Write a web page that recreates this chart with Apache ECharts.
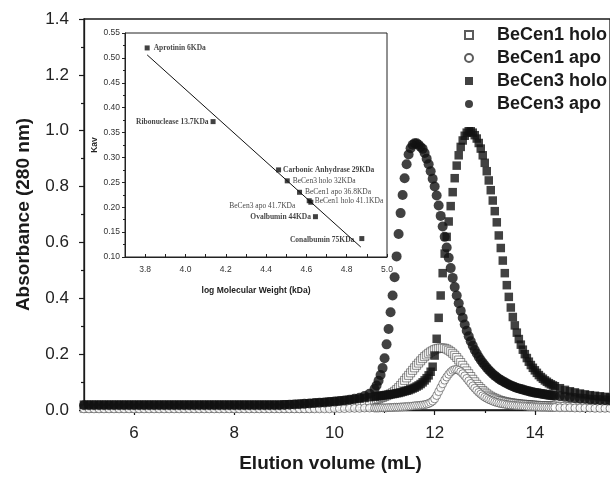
<!DOCTYPE html>
<html><head><meta charset="utf-8">
<script src="https://cdn.jsdelivr.net/npm/echarts@6/dist/echarts.min.js"></script>
<style>html,body{margin:0;padding:0;background:#fff}#c{width:610px;height:478px}</style>
</head><body><div id="c"></div>
<script>
// ---------- main chromatogram data ----------
const elutionVolume = [
5.0,5.1,5.2,5.3,5.4,5.5,5.6,5.7,5.8,5.9,
6.0,6.1,6.2,6.3,6.4,6.5,6.6,6.7,6.8,6.9,
7.0,7.1,7.2,7.3,7.4,7.5,7.6,7.7,7.8,7.9,
8.0,8.1,8.2,8.3,8.4,8.5,8.6,8.7,8.8,8.9,
9.0,9.1,9.2,9.3,9.4,9.5,9.6,9.7,9.8,9.9,
10.0,10.1,10.2,10.3,10.4,10.5,10.6,10.7,
10.80,10.84,10.88,10.92,10.96,
11.00,11.04,11.08,11.12,11.16,11.20,11.24,11.28,11.32,11.36,11.40,11.44,11.48,11.52,11.56,11.60,11.64,11.68,11.72,11.76,11.80,11.84,11.88,11.92,11.96,
12.00,12.04,12.08,12.12,12.16,12.20,12.24,12.28,12.32,12.36,12.40,12.44,12.48,12.52,12.56,12.60,12.64,12.68,12.72,12.76,12.80,12.84,12.88,12.92,12.96,
13.00,13.04,13.08,13.12,13.16,13.20,13.24,13.28,13.32,13.36,13.40,13.44,13.48,13.52,13.56,13.60,13.64,13.68,13.72,13.76,13.80,13.84,13.88,13.92,13.96,
14.00,14.04,14.08,14.12,14.16,14.20,14.24,14.28,14.32,14.36,14.40,
14.5,14.6,14.7,14.8,14.9,15.0,15.1,15.2,15.3,15.4,15.5
];
const becen1Holo = [
0.006,0.006,0.006,0.006,0.006,0.006,0.006,0.006,0.006,0.006,
0.006,0.006,0.006,0.006,0.006,0.006,0.006,0.006,0.006,0.006,
0.006,0.006,0.006,0.006,0.006,0.006,0.006,0.006,0.006,0.006,
0.006,0.006,0.006,0.006,0.006,0.006,0.006,0.006,0.006,0.006,
0.006,0.006,0.006,0.006,0.006,0.007,0.008,0.009,0.010,0.011,
0.012,0.014,0.016,0.018,0.021,0.024,0.028,0.032,
0.036,0.038,0.040,0.043,0.045,
0.048,0.051,0.054,0.058,0.062,0.067,0.073,0.080,0.088,0.097,0.106,0.115,0.124,0.133,0.142,0.151,0.160,0.168,0.176,0.184,0.191,0.197,0.203,0.208,0.212,
0.216,0.219,0.221,0.222,0.222,0.221,0.218,0.214,0.209,0.203,0.196,0.188,0.179,0.170,0.160,0.150,0.140,0.130,0.120,0.110,0.101,0.092,0.084,0.077,0.070,
0.064,0.058,0.053,0.049,0.045,0.042,0.039,0.036,0.034,0.032,0.030,0.029,0.027,0.026,0.025,0.024,0.023,0.022,0.021,0.021,0.020,0.019,0.019,0.018,0.018,
0.017,0.017,0.016,0.016,0.016,0.015,0.015,0.015,0.014,0.014,0.014,
0.013,0.013,0.012,0.012,0.011,0.011,0.011,0.010,0.010,0.010,0.009
];
const becen1Apo = [
0.004,0.004,0.004,0.004,0.004,0.004,0.004,0.004,0.004,0.004,
0.004,0.004,0.004,0.004,0.004,0.004,0.004,0.004,0.004,0.004,
0.004,0.004,0.004,0.004,0.004,0.004,0.004,0.004,0.004,0.004,
0.004,0.004,0.004,0.004,0.004,0.004,0.004,0.004,0.004,0.004,
0.004,0.004,0.004,0.004,0.004,0.004,0.004,0.004,0.004,0.004,
0.005,0.005,0.005,0.006,0.006,0.006,0.007,0.007,
0.007,0.007,0.007,0.008,0.008,
0.008,0.008,0.009,0.009,0.009,0.010,0.010,0.010,0.011,0.011,0.012,0.012,0.013,0.013,0.014,0.015,0.016,0.016,0.017,0.018,0.019,0.021,0.023,0.027,0.032,
0.040,0.052,0.066,0.080,0.094,0.107,0.118,0.128,0.136,0.142,0.145,0.145,0.142,0.137,0.130,0.122,0.113,0.104,0.095,0.086,0.078,0.070,0.063,0.057,0.051,
0.046,0.042,0.038,0.035,0.032,0.029,0.027,0.025,0.023,0.022,0.021,0.019,0.018,0.017,0.017,0.016,0.015,0.015,0.014,0.014,0.013,0.013,0.012,0.012,0.012,
0.011,0.011,0.011,0.010,0.010,0.010,0.010,0.009,0.009,0.009,0.009,
0.008,0.008,0.008,0.007,0.007,0.007,0.007,0.006,0.006,0.006,0.006
];
const becen3Holo = [
0.019,0.019,0.019,0.019,0.019,0.019,0.019,0.019,0.019,0.019,
0.019,0.019,0.019,0.019,0.019,0.019,0.019,0.019,0.019,0.019,
0.019,0.019,0.019,0.019,0.019,0.019,0.019,0.019,0.019,0.019,
0.019,0.019,0.019,0.019,0.019,0.019,0.019,0.019,0.019,0.019,
0.020,0.020,0.021,0.022,0.023,0.024,0.025,0.027,0.028,0.030,
0.031,0.033,0.035,0.037,0.039,0.041,0.043,0.046,
0.048,0.049,0.050,0.051,0.052,
0.053,0.054,0.055,0.056,0.057,0.058,0.060,0.061,0.063,0.065,0.067,0.069,0.071,0.074,0.077,0.080,0.084,0.088,0.093,0.099,0.106,0.114,0.124,0.137,0.155,
0.195,0.255,0.330,0.410,0.490,0.560,0.620,0.675,0.730,0.780,0.830,0.875,0.912,0.942,0.965,0.982,0.993,0.998,0.998,0.993,0.984,0.972,0.956,0.936,0.912,
0.885,0.855,0.822,0.787,0.750,0.712,0.672,0.625,0.580,0.535,0.490,0.447,0.405,0.367,0.333,0.303,0.277,0.254,0.234,0.216,0.200,0.186,0.173,0.161,0.151,
0.142,0.133,0.125,0.118,0.112,0.106,0.101,0.096,0.092,0.088,0.085,
0.078,0.072,0.067,0.063,0.059,0.056,0.053,0.051,0.049,0.047,0.045
];
const becen3Apo = [
0.017,0.017,0.017,0.017,0.017,0.017,0.017,0.017,0.017,0.017,
0.017,0.017,0.017,0.017,0.017,0.017,0.017,0.017,0.017,0.017,
0.017,0.017,0.017,0.017,0.017,0.017,0.017,0.017,0.017,0.017,
0.017,0.017,0.017,0.017,0.017,0.017,0.017,0.017,0.017,0.017,
0.018,0.019,0.020,0.021,0.022,0.023,0.025,0.026,0.027,0.029,
0.030,0.032,0.034,0.037,0.040,0.044,0.050,0.058,
0.075,0.088,0.105,0.125,0.150,
0.185,0.235,0.290,0.350,0.410,0.475,0.550,0.630,0.705,0.770,0.830,0.880,0.915,0.937,0.950,0.955,0.955,0.950,0.942,0.935,0.920,0.900,0.880,0.855,0.828,
0.800,0.768,0.732,0.695,0.657,0.620,0.582,0.545,0.508,0.473,0.440,0.410,0.382,0.355,0.330,0.306,0.284,0.264,0.246,0.230,0.215,0.202,0.190,0.179,0.169,
0.160,0.151,0.143,0.136,0.129,0.123,0.117,0.112,0.107,0.103,0.099,0.095,0.091,0.088,0.085,0.082,0.079,0.077,0.075,0.073,0.071,0.069,0.067,0.065,0.064,
0.062,0.061,0.060,0.058,0.057,0.056,0.055,0.054,0.053,0.052,0.051,
0.049,0.047,0.045,0.043,0.041,0.040,0.038,0.037,0.036,0.035,0.034
];
const seriesNames = ['BeCen1 holo','BeCen1 apo','BeCen3 holo','BeCen3 apo'];
const xTickLabels = [6,8,10,12,14];
const xMinorTicks = [5,7,9,11,13,15];

// ---------- inset calibration data ----------
const standardNames = ['Aprotinin 6KDa','Ribonuclease 13.7KDa','Carbonic Anhydrase 29KDa','Ovalbumin 44KDa','Conalbumin 75KDa'];
const standardLogMW = [3.81, 4.137, 4.462, 4.645, 4.875];
const standardKav   = [0.520, 0.372, 0.275, 0.181, 0.137];
const sampleNames = ['BeCen3 holo 32KDa','BeCen1 apo 36.8KDa','BeCen1 holo 41.1KDa','BeCen3 apo 41.7KDa'];
const sampleLogMW = [4.505, 4.566, 4.614, 4.622];
const sampleKav   = [0.253, 0.230, 0.213, 0.210];
const fitLogMW = [3.81, 4.87];
const fitKav   = [0.506, 0.120];
const insetXTickLabels = [3.8,4.0,4.2,4.4,4.6,4.8,5.0];
const insetXTicks = [3.7,3.8,3.9,4.0,4.1,4.2,4.3,4.4,4.5,4.6,4.7,4.8,4.9,5.0];

// ---------- styling / placement ----------
const labelPlacement = {
  'Aprotinin 6KDa': {position:'right', distance:4},
  'Ribonuclease 13.7KDa': {position:'left', distance:2},
  'Carbonic Anhydrase 29KDa': {position:'right', distance:2},
  'Ovalbumin 44KDa': {position:'left', distance:2},
  'Conalbumin 75KDa': {position:'left', distance:5, offset:[0,1]},
  'BeCen3 holo 32KDa': {position:'right', distance:3},
  'BeCen1 apo 36.8KDa': {position:'right', distance:3},
  'BeCen1 holo 41.1KDa': {position:'right', distance:3},
  'BeCen3 apo 41.7KDa': {position:'left', distance:13, offset:[0,4]}
};
const toPoints = ys => elutionVolume.map((x,i)=>[x, ys[i]]);
const labelled = (names, xs, ys, bold) => names.map((n,i)=>({
  value:[xs[i], ys[i]], name:n,
  label:Object.assign({show:true, formatter:n, fontFamily:'Liberation Serif', fontSize:7.5,
    fontWeight: bold ? 'bold':'normal', color:'#111'}, labelPlacement[n])
}));

const chart = echarts.init(document.getElementById('c'), null, {renderer:'canvas'});
const axisCol = '#1a1a1a';
chart.setOption({
  animation:false,
  backgroundColor:'#fff',
  textStyle:{fontFamily:'Liberation Sans'},
  grid:[
    {left:84, right:-1, top:19, bottom:66, show:true, borderColor:axisCol, borderWidth:1.3, backgroundColor:'transparent'},
    {left:125, top:33, width:262, height:224, show:true, borderColor:'#222', borderWidth:1, backgroundColor:'#fff'}
  ],
  legend:{
    orient:'vertical', left:459, top:21, itemWidth:8, itemHeight:8, itemGap:5,
    data:seriesNames,
    textStyle:{fontSize:18, fontWeight:'bold', color:'#1a1a1a', lineHeight:18, padding:[0,0,0,19]}
  },
  xAxis:[
    {type:'value', gridIndex:0, min:5, max:15.5,
     axisLine:{show:true, lineStyle:{color:axisCol, width:1.3}},
     axisTick:{show:true, customValues:xTickLabels, length:5, lineStyle:{color:axisCol, width:1.2}},
     axisLabel:{customValues:xTickLabels, fontSize:17, color:'#222', margin:15},
     splitLine:{show:false},
     name:'Elution volume (mL)', nameLocation:'middle', nameGap:44,
     nameTextStyle:{fontSize:19, fontWeight:'bold', color:'#1a1a1a', padding:[0,33,0,0]}},
    {type:'value', gridIndex:0, min:5, max:15.5, position:'bottom',
     axisLine:{show:false},
     axisTick:{show:true, customValues:xMinorTicks, length:3, lineStyle:{color:axisCol, width:1.2}},
     axisLabel:{show:false}, splitLine:{show:false}},
    {type:'value', gridIndex:1, min:3.7, max:5.0,
     axisLine:{show:true, lineStyle:{color:'#222', width:1}},
     axisTick:{show:true, inside:true, customValues:insetXTicks, length:3, lineStyle:{color:'#222'}},
     axisLabel:{customValues:insetXTickLabels, formatter:v=>v.toFixed(1), fontSize:8.5, color:'#333', margin:8},
     splitLine:{show:false},
     name:'log Molecular Weight (kDa)', nameLocation:'middle', nameGap:29,
     nameTextStyle:{fontSize:8.5, fontWeight:'bold', color:'#222'}}
  ],
  yAxis:[
    {type:'value', gridIndex:0, min:0, max:1.4, interval:0.2,
     axisLine:{show:true, lineStyle:{color:axisCol, width:1.3}},
     axisTick:{show:true, length:5, lineStyle:{color:axisCol, width:1.2}},
     minorTick:{show:true, splitNumber:2, length:3, lineStyle:{color:axisCol, width:1.2}},
     axisLabel:{formatter:v=>v.toFixed(1), fontSize:17, color:'#222', margin:15},
     splitLine:{show:false},
     name:'Absorbance (280 nm)', nameLocation:'middle', nameGap:51,
     nameTextStyle:{fontSize:19, fontWeight:'bold', color:'#1a1a1a'}},
    {type:'value', gridIndex:1, min:0.10, max:0.55, interval:0.05,
     axisLine:{show:true, lineStyle:{color:'#222', width:1}},
     axisTick:{show:true, length:3, lineStyle:{color:'#222'}},
     minorTick:{show:true, splitNumber:2, length:2, lineStyle:{color:'#222'}},
     axisLabel:{formatter:v=>v.toFixed(2), fontSize:8.5, color:'#333', margin:5},
     splitLine:{show:false},
     name:'Kav', nameLocation:'middle', nameGap:25,
     nameTextStyle:{fontSize:8.5, fontWeight:'bold', color:'#222'}}
  ],
  series:[
    {name:seriesNames[0], type:'scatter', xAxisIndex:0, yAxisIndex:0, data:toPoints(becen1Holo),
     symbol:'rect', symbolSize:8, itemStyle:{color:'#fff', borderColor:'#333', borderWidth:0.7}},
    {name:seriesNames[1], type:'scatter', xAxisIndex:0, yAxisIndex:0, data:toPoints(becen1Apo),
     symbol:'circle', symbolSize:8, itemStyle:{color:'#fff', borderColor:'#333', borderWidth:0.7}},
    {name:seriesNames[2], type:'scatter', xAxisIndex:0, yAxisIndex:0, data:toPoints(becen3Holo),
     symbol:'rect', symbolSize:8.5, itemStyle:{color:'#111'}},
    {name:seriesNames[3], type:'scatter', xAxisIndex:0, yAxisIndex:0, data:toPoints(becen3Apo),
     symbol:'circle', symbolSize:10, itemStyle:{color:'#111'}},
    {name:'fit', type:'line', xAxisIndex:2, yAxisIndex:1, data:fitLogMW.map((x,i)=>[x, fitKav[i]]),
     symbol:'none', lineStyle:{color:'#111', width:1}, z:3},
    {name:'standards', type:'scatter', xAxisIndex:2, yAxisIndex:1, data:labelled(standardNames, standardLogMW, standardKav, true),
     symbol:'rect', symbolSize:5, itemStyle:{color:'#111'}, z:4},
    {name:'samples', type:'scatter', xAxisIndex:2, yAxisIndex:1, data:labelled(sampleNames, sampleLogMW, sampleKav, false),
     symbol:'rect', symbolSize:5, itemStyle:{color:'#111'}, z:4}
  ]
});
</script></body></html>
